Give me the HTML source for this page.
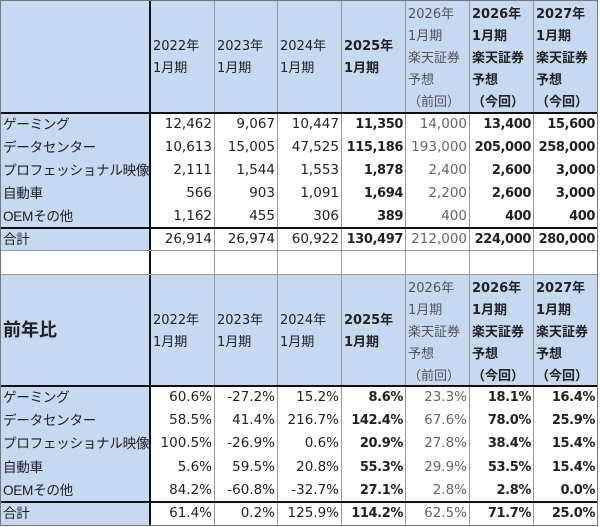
<!DOCTYPE html>
<html><head><meta charset="utf-8">
<style>
html,body{margin:0;padding:0;background:#fff;width:600px;height:527px;overflow:hidden;position:relative}
.c{position:absolute;white-space:nowrap;overflow:hidden;box-sizing:border-box;font-family:"DejaVu Sans","Noto Sans CJK JP",sans-serif;font-size:13.5px;color:#222;text-align:right;padding-right:2px}
.c.b{font-weight:bold;font-size:13px;letter-spacing:-0.4px}
.c.g{color:#666}
.lab{text-align:left;padding-left:3px;font-family:"Liberation Sans","Noto Sans CJK JP",sans-serif;font-size:13.6px;letter-spacing:-0.3px}
.hd{text-align:left;padding-left:3px;font-size:13px;line-height:22px;letter-spacing:0;display:flex;align-items:center}
.bg{position:absolute;background:#c6d9f1}
.ln{position:absolute}
</style></head><body>
<div id="root"></div>
<script>
const colX=[0,150,214,277,341,405,469,533,597];
const labels=["ゲーミング","データセンター","プロフェッショナル映像","自動車","OEMその他"];
const headers=["2022年<br>1月期","2023年<br>1月期","2024年<br>1月期","2025年<br>1月期","2026年<br>1月期<br>楽天証券<br>予想<br>（前回）","2026年<br>1月期<br>楽天証券<br>予想<br>（今回）","2027年<br>1月期<br>楽天証券<br>予想<br>（今回）"];
const colStyle=["","","","b","g","b","b"];
const rev=[["12,462","9,067","10,447","11,350","14,000","13,400","15,600"],
["10,613","15,005","47,525","115,186","193,000","205,000","258,000"],
["2,111","1,544","1,553","1,878","2,400","2,600","3,000"],
["566","903","1,091","1,694","2,200","2,600","3,000"],
["1,162","455","306","389","400","400","400"]];
const revTotal=["26,914","26,974","60,922","130,497","212,000","224,000","280,000"];
const yoy=[["60.6%","-27.2%","15.2%","8.6%","23.3%","18.1%","16.4%"],
["58.5%","41.4%","216.7%","142.4%","67.6%","78.0%","25.9%"],
["100.5%","-26.9%","0.6%","20.9%","27.8%","38.4%","15.4%"],
["5.6%","59.5%","20.8%","55.3%","29.9%","53.5%","15.4%"],
["84.2%","-60.8%","-32.7%","27.1%","2.8%","2.8%","0.0%"]];
const yoyTotal=["61.4%","0.2%","125.9%","114.2%","62.5%","71.7%","25.0%"];
const root=document.getElementById('root');
function box(cls,x,y,w,h,html,name){const d=document.createElement('div');d.className=cls;
d.style.left=x+'px';d.style.top=y+'px';d.style.width=w+'px';d.style.height=h+'px';
if(html!==undefined){d.innerHTML=html;d.style.lineHeight=h+'px';}


root.appendChild(d);return d;}
box('bg',0,0,597,113,undefined,'header-bg');
box('bg',0,113,150,138,undefined,'label-col-bg');
box('bg',0,275,597,111,undefined,'yoy-header-bg');
box('bg',0,386,150,139,undefined,'yoy-label-col-bg');
function section(top,hh,rows,total,rowH,title,prefix){
 if(title){const t=box('c hd',0,top,150,hh,title,prefix+'-title');t.style.fontSize='18px';t.style.fontWeight='bold';t.style.lineHeight=hh+'px';}
 for(let j=0;j<7;j++){const five=j>=4;const off=five?5:2;
  const h=box('c hd '+colStyle[j],colX[j+1],top+off,colX[j+2]-colX[j+1],hh-off,headers[j],prefix+'-header-'+j);
  h.style.lineHeight=five?'22.2px':'22px';h.style.letterSpacing='0';h.style.fontSize='13px';if(colStyle[j]=='g')h.style.color='#555';}
 const y0=top+hh;
 for(let i=0;i<rows.length;i++){const y=y0+i*rowH;
  box('c lab',0,y,150,rowH,labels[i],prefix+'-label-'+i);
  for(let j=0;j<7;j++)box('c '+colStyle[j],colX[j+1],y,colX[j+2]-colX[j+1],rowH,rows[i][j],prefix+'-cell-'+i+'-'+j);}
 const ty=y0+rows.length*rowH;
 box('c lab',0,ty,150,23,'合計',prefix+'-total-label');
 for(let j=0;j<7;j++)box('c '+colStyle[j],colX[j+1],ty,colX[j+2]-colX[j+1],23,total[j],prefix+'-total-'+j);
}
section(0,113,rev,revTotal,23,'','revenue');
section(275,111,yoy,yoyTotal,23.2,'前年比','yoy');
for(let j=2;j<8;j++){const l=box('ln',colX[j],0,1,525,undefined,'grid-v');l.style.background='#999';}
const v=box('ln',149,0,2,525,undefined,'label-divider');v.style.background='#111';
[[113,2,'#111'],[228,2,'#111'],[251,1,'#999'],[275,1,'#999'],[386,2,'#111'],[502,2,'#111']].forEach(a=>{
 const l=box('ln',0,a[0]-1,597,a[1],undefined,'grid-h');l.style.background=a[2];});
const o=box('ln',0,0,598,526,undefined,'outer-border');o.style.border='1px solid #777';o.style.boxSizing='border-box';
</script>
</body></html>
